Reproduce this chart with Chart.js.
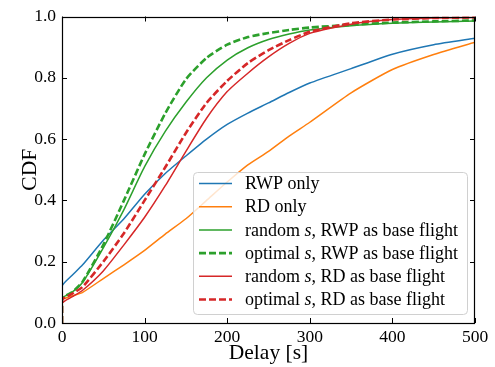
<!DOCTYPE html>
<html>
<head>
<meta charset="utf-8">
<script src="https://cdn.jsdelivr.net/npm/chart.js@4.4.1/dist/chart.umd.min.js"></script>
<style>
  html, body { margin: 0; padding: 0; background: #fff; }
  canvas { display: block; }
</style>
</head>
<body>
<canvas id="c" width="495" height="367"></canvas>
<script>
// ---- data ----
const delays = [0, 0, 12, 25, 50, 75, 100, 125, 150, 175, 200, 225, 250, 275, 300, 350, 400, 450, 500];

const rwpOnly      = [0, 0.120, 0.155, 0.190, 0.270, 0.340, 0.420, 0.488, 0.545, 0.600, 0.648, 0.685, 0.718, 0.752, 0.783, 0.830, 0.877, 0.908, 0.929];
const rdOnly       = [0, 0.075, 0.088, 0.100, 0.145, 0.190, 0.237, 0.290, 0.340, 0.400, 0.460, 0.516, 0.560, 0.610, 0.655, 0.751, 0.827, 0.876, 0.916];
const randomSRwp   = [0, 0.080, 0.100, 0.133, 0.245, 0.370, 0.510, 0.625, 0.720, 0.800, 0.858, 0.898, 0.925, 0.943, 0.956, 0.970, 0.978, 0.982, 0.985];
const optimalSRwp  = [0, 0.080, 0.100, 0.135, 0.255, 0.400, 0.550, 0.684, 0.795, 0.865, 0.908, 0.933, 0.946, 0.956, 0.964, 0.973, 0.980, 0.984, 0.987];
const randomSRd    = [0, 0.064, 0.085, 0.107, 0.170, 0.255, 0.345, 0.448, 0.560, 0.668, 0.755, 0.815, 0.868, 0.912, 0.945, 0.975, 0.990, 0.995, 0.997];
const optimalSRd   = [0, 0.075, 0.095, 0.118, 0.200, 0.293, 0.400, 0.508, 0.620, 0.718, 0.790, 0.848, 0.890, 0.923, 0.950, 0.978, 0.990, 0.995, 0.997];

const seriesNames = [
  'RWP only',
  'RD only',
  'random s, RWP as base flight',
  'optimal s, RWP as base flight',
  'random s, RD as base flight',
  'optimal s, RD as base flight'
];
const seriesValues = [rwpOnly, rdOnly, randomSRwp, optimalSRwp, randomSRd, optimalSRd];

const xTickValues = [0, 100, 200, 300, 400, 500];
const yTickValues = [0, 0.2, 0.4, 0.6, 0.8, 1.0];
const xAxisTitle = 'Delay [s]';
const yAxisTitle = 'CDF';

// ---- styles ----
const colors = ['#1f77b4', '#ff7f0e', '#2ca02c', '#2ca02c', '#d62728', '#d62728'];
const dashed = [false, false, false, true, false, true];
const SERIF = '"Liberation Serif", "DejaVu Serif", serif';

const datasets = seriesValues.map((vals, i) => ({
  label: seriesNames[i],
  data: vals.map((v, k) => ({ x: delays[k], y: v })),
  borderColor: colors[i],
  backgroundColor: colors[i],
  borderWidth: dashed[i] ? 2.6 : 1.5,
  borderDash: dashed[i] ? [7, 3] : [],
  pointRadius: 0,
  tension: 0.2,
  fill: false,
  order: seriesValues.length - i
}));

const frameAndTicks = {
  id: 'frameAndTicks',
  afterDatasetsDraw(chart) {
    const { ctx, chartArea: a, scales: { x, y } } = chart;
    ctx.save();
    ctx.strokeStyle = '#000';
    ctx.lineWidth = 1;
    const L = 5;
    ctx.beginPath();
    xTickValues.forEach(v => {
      const px = Math.round(x.getPixelForValue(v)) + 0.5;
      ctx.moveTo(px, a.bottom); ctx.lineTo(px, a.bottom - L);
      ctx.moveTo(px, a.top); ctx.lineTo(px, a.top + L);
    });
    yTickValues.forEach(v => {
      const py = Math.round(y.getPixelForValue(v)) + 0.5;
      ctx.moveTo(a.left, py); ctx.lineTo(a.left + L, py);
      ctx.moveTo(a.right, py); ctx.lineTo(a.right - L, py);
    });
    ctx.stroke();
    ctx.lineWidth = 1.2;
    ctx.strokeRect(Math.round(a.left) + 0.5, Math.round(a.top) + 0.5,
                   Math.round(a.right - a.left) - 1, Math.round(a.bottom - a.top) - 1);
    ctx.restore();
  }
};

function roundRect(ctx, x, y, w, h, r) {
  ctx.beginPath();
  ctx.moveTo(x + r, y);
  ctx.lineTo(x + w - r, y);
  ctx.quadraticCurveTo(x + w, y, x + w, y + r);
  ctx.lineTo(x + w, y + h - r);
  ctx.quadraticCurveTo(x + w, y + h, x + w - r, y + h);
  ctx.lineTo(x + r, y + h);
  ctx.quadraticCurveTo(x, y + h, x, y + h - r);
  ctx.lineTo(x, y + r);
  ctx.quadraticCurveTo(x, y, x + r, y);
  ctx.closePath();
}

const mplLegend = {
  id: 'mplLegend',
  afterDraw(chart) {
    const { ctx, chartArea: a } = chart;
    const w = 274, h = 142;
    const bx = a.right - 8 - w, by = a.bottom - 9 - h;
    ctx.save();
    roundRect(ctx, bx + 0.5, by + 0.5, w, h, 4);
    ctx.fillStyle = 'rgba(255,255,255,0.8)';
    ctx.fill();
    ctx.strokeStyle = '#d0d0d0';
    ctx.lineWidth = 1;
    ctx.stroke();
    const fs = 18;
    chart.data.datasets.forEach((ds, i) => {
      const cy = by + 11.5 + i * 23.2;
      ctx.beginPath();
      ctx.setLineDash(ds.borderDash || []);
      ctx.strokeStyle = ds.borderColor;
      ctx.lineWidth = ds.borderWidth;
      ctx.moveTo(bx + 6, cy);
      ctx.lineTo(bx + 39, cy);
      ctx.stroke();
      ctx.setLineDash([]);
      ctx.fillStyle = '#000';
      ctx.textBaseline = 'middle';
      ctx.textAlign = 'left';
      let tx = bx + 52;
      const parts = ds.label.split(/(\bs\b)/);
      parts.forEach(p => {
        if (!p) return;
        ctx.font = (p === 's' ? 'italic ' : '') + fs + 'px ' + SERIF;
        ctx.fillText(p, tx, cy + 1);
        tx += ctx.measureText(p).width;
      });
    });
    ctx.restore();
  }
};

new Chart(document.getElementById('c'), {
  type: 'line',
  data: { datasets },
  options: {
    responsive: false,
    devicePixelRatio: 1,
    animation: false,
    events: [],
    layout: { padding: { top: 15, right: 20, left: 0, bottom: 0 } },
    plugins: { legend: { display: false }, tooltip: { enabled: false } },
    scales: {
      x: {
        type: 'linear',
        min: 0, max: 500,
        afterBuildTicks: s => { s.ticks = xTickValues.map(v => ({ value: v })); },
        afterFit: s => { s.height = 44; },
        grid: { display: false, drawTicks: false },
        border: { display: false },
        ticks: { padding: 4, color: '#000', font: { family: SERIF, size: 17.5 }, maxRotation: 0,
                 callback: v => String(v) },
        title: { display: true, text: xAxisTitle, color: '#000',
                 font: { family: SERIF, size: 21.5 }, padding: { top: 0, bottom: 1 } }
      },
      y: {
        type: 'linear',
        min: 0, max: 1,
        afterBuildTicks: s => { s.ticks = yTickValues.map(v => ({ value: v })); },
        afterFit: s => { s.width = 62; },
        grid: { display: false, drawTicks: false },
        border: { display: false },
        ticks: { padding: 6, color: '#000', font: { family: SERIF, size: 17.5 },
                 callback: v => Number(v).toFixed(1) },
        title: { display: true, text: yAxisTitle, color: '#000',
                 font: { family: SERIF, size: 21.5 }, padding: { top: 17, bottom: 0 } }
      }
    }
  },
  plugins: [frameAndTicks, mplLegend]
});
</script>
</body>
</html>
